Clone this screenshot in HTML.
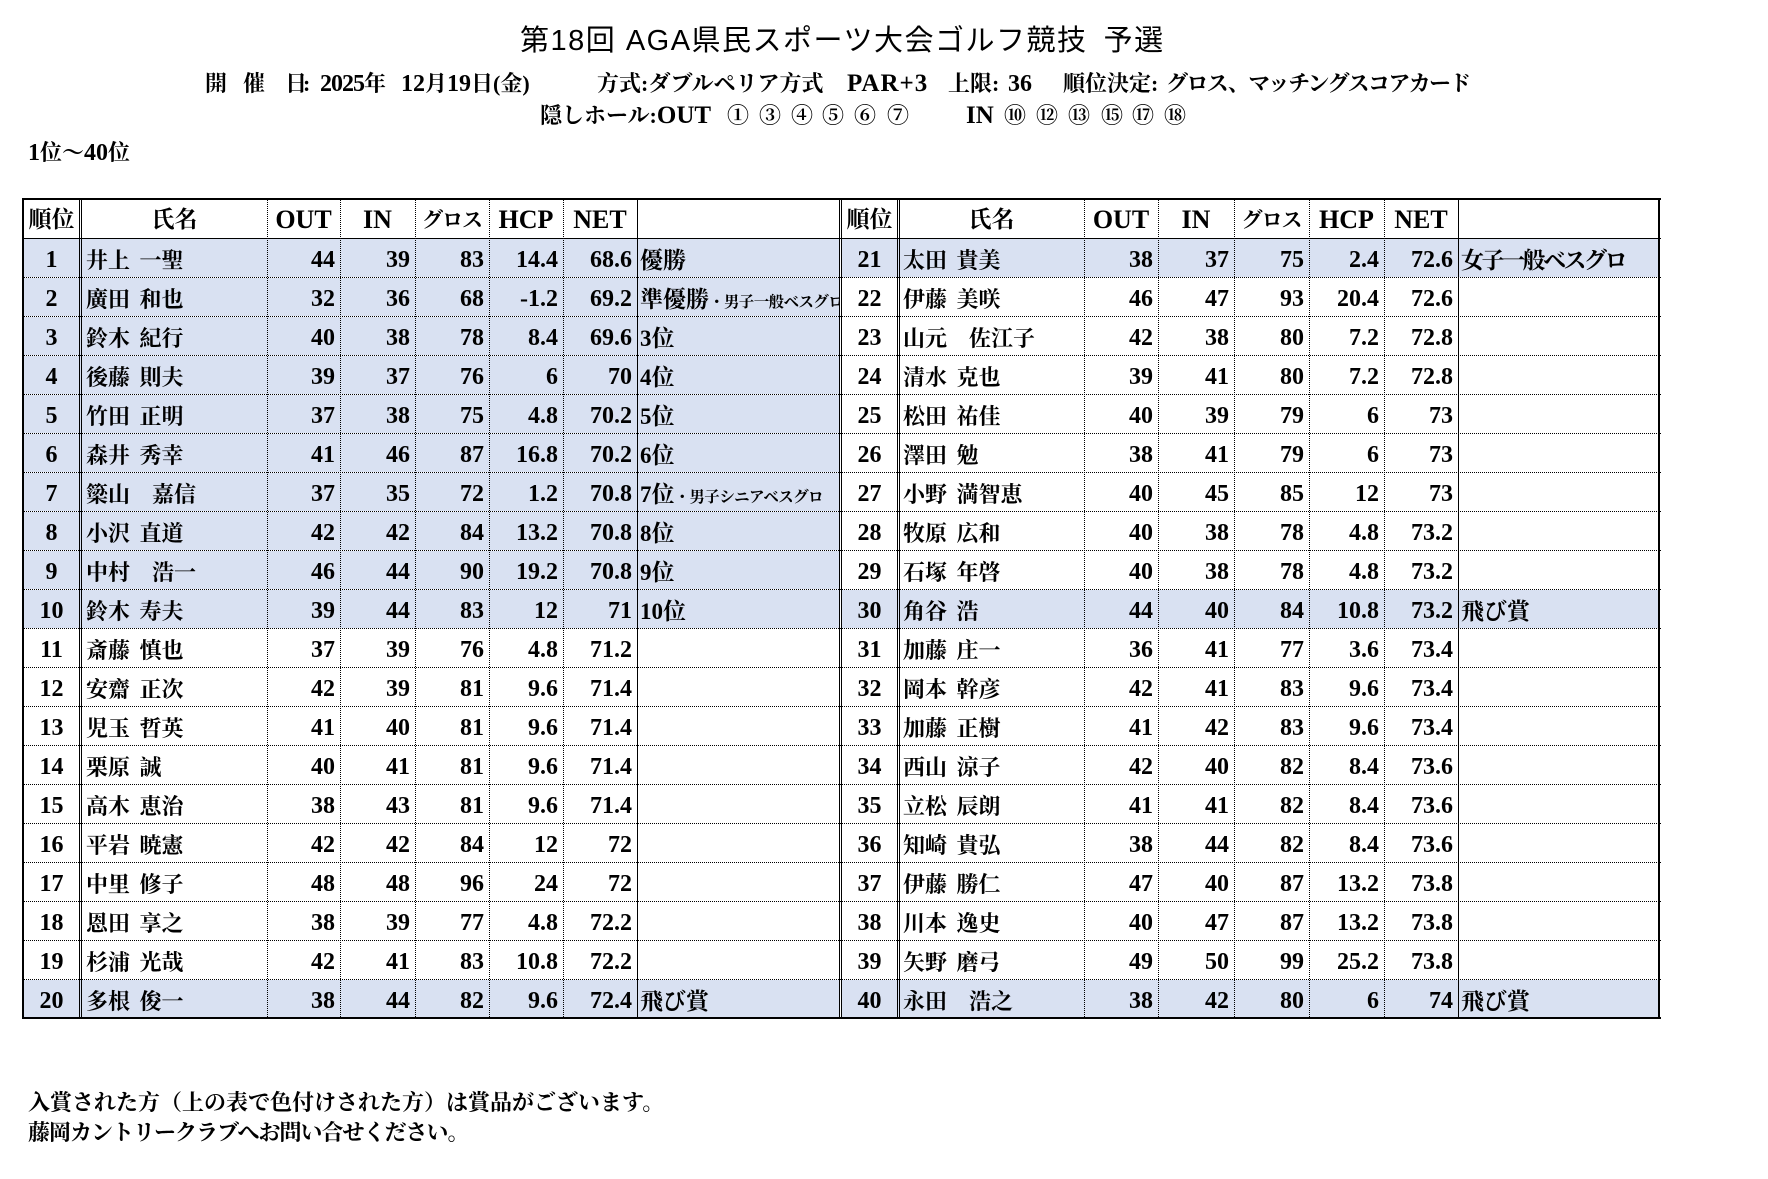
<!DOCTYPE html>
<html><head><meta charset="utf-8">
<style>
html,body{margin:0;padding:0}
body{width:1768px;height:1179px;background:#fff;position:relative;overflow:hidden;color:#000;font-family:"Liberation Serif","Noto Serif CJK SC",serif;font-weight:bold}
.t{position:absolute;white-space:pre;line-height:22px;font-size:22px}
.lat{font-size:24px}
.r{position:absolute;left:0;width:1768px;height:39px}
.r span,.h span{position:absolute;top:0;height:39px;line-height:39px;white-space:nowrap;overflow:hidden;box-sizing:border-box}
.h{position:absolute;left:0;top:201px;width:1768px;height:38px}
.h span{height:38px;line-height:38px;text-align:center}
.hl{font-size:26px}
.hj{font-size:23px}
.k{font-size:24px;text-align:center}
.n{font-size:24px;text-align:right;padding-right:5px}
.m{font-size:22px;padding-left:4px;word-spacing:4px}
.x{font-size:23px;padding-left:3px}
.x small{font-size:15.5px;letter-spacing:-0.6px}
.L0{left:24px;width:55px}.L1{left:82px;width:185px}.L2{left:267px;width:73px}.L3{left:340px;width:75px}.L4{left:415px;width:74px}.L5{left:489px;width:74px}.L6{left:563px;width:74px}.L7{left:637px;width:202px}
.R0{left:842px;width:55px}.R1{left:899px;width:185px}.R2{left:1084px;width:74px}.R3{left:1158px;width:76px}.R4{left:1234px;width:75px}.R5{left:1309px;width:75px}.R6{left:1384px;width:74px}.R7{left:1458px;width:200px}
.bg{position:absolute;height:38px;background:#D9E1F2}
.bl{left:24px;width:815px}
.br{left:842px;width:816px}
.s{position:absolute;background:#000}
.hd{position:absolute;left:22px;width:1639px;height:1px;background:repeating-linear-gradient(90deg,#000 0 1px,transparent 1px 2px)}
.vd{position:absolute;top:198px;height:821px;width:1px;background:repeating-linear-gradient(180deg,#000 0 1px,transparent 1px 2px)}
.vs{position:absolute;top:198px;height:821px;width:1px;background:#000}
</style></head><body>

<!-- title -->
<div class="t" style="left:520px;top:26px;font-family:'Liberation Sans','Noto Sans CJK JP',sans-serif;font-weight:normal;font-size:29px;line-height:30px;letter-spacing:1.5px">第18回 AGA県民スポーツ大会ゴルフ競技<span style="letter-spacing:0">  </span>予選</div>

<!-- line 2 -->
<div class="t" style="left:205px;top:73px">開</div>
<div class="t" style="left:243px;top:73px">催</div>
<div class="t" style="left:285px;top:73px">日</div>
<div class="t" style="left:303px;top:73px">:</div>
<div class="t" style="left:320px;top:73px"><span class="lat" style="letter-spacing:-1px">2025</span>年</div>
<div class="t" style="left:401px;top:73px"><span class="lat">12</span>月<span class="lat">19</span>日(金)</div>
<div class="t" style="left:597px;top:73px">方式:ダブルペリア方式</div>
<div class="t" style="left:847px;top:73px"><span class="lat" style="font-size:25px;letter-spacing:1px">PAR+3</span></div>
<div class="t" style="left:948px;top:73px">上限:</div>
<div class="t" style="left:1008px;top:73px"><span class="lat">36</span></div>
<div class="t" style="left:1063px;top:73px">順位決定:</div>
<div class="t" style="left:1166px;top:73px;letter-spacing:-1.6px">グロス、マッチングスコアカード</div>

<!-- line 3 -->
<div class="t" style="left:540px;top:105px">隠しホール:<span class="lat" style="font-size:25px">OUT</span></div>
<div class="t" style="left:727px;top:105px">①</div>
<div class="t" style="left:759px;top:105px">③</div>
<div class="t" style="left:791px;top:105px">④</div>
<div class="t" style="left:822px;top:105px">⑤</div>
<div class="t" style="left:854px;top:105px">⑥</div>
<div class="t" style="left:887px;top:105px">⑦</div>
<div class="t" style="left:966px;top:105px"><span class="lat" style="font-size:25px">IN</span></div>
<div class="t" style="left:1004px;top:105px">⑩</div>
<div class="t" style="left:1036px;top:105px">⑫</div>
<div class="t" style="left:1068px;top:105px">⑬</div>
<div class="t" style="left:1101px;top:105px">⑮</div>
<div class="t" style="left:1132px;top:105px">⑰</div>
<div class="t" style="left:1164px;top:105px">⑱</div>

<div class="t" style="left:28px;top:142px"><span class="lat">1</span>位～<span class="lat">40</span>位</div>

<!-- backgrounds -->
<div class="bg bl" style="top:239px"></div>
<div class="bg bl" style="top:278px"></div>
<div class="bg bl" style="top:317px"></div>
<div class="bg bl" style="top:356px"></div>
<div class="bg bl" style="top:395px"></div>
<div class="bg bl" style="top:434px"></div>
<div class="bg bl" style="top:473px"></div>
<div class="bg bl" style="top:512px"></div>
<div class="bg bl" style="top:551px"></div>
<div class="bg bl" style="top:590px"></div>
<div class="bg bl" style="top:980px"></div>
<div class="bg br" style="top:239px"></div>
<div class="bg br" style="top:590px"></div>
<div class="bg br" style="top:980px"></div>

<!-- header -->
<div class="h">
<span class="hj L0">順位</span><span class="hj L1">氏名</span><span class="hl L2">OUT</span><span class="hl L3">IN</span><span class="hj L4" style="font-size:21px;letter-spacing:-1px">グロス</span><span class="hl L5">HCP</span><span class="hl L6">NET</span>
<span class="hj R0">順位</span><span class="hj R1">氏名</span><span class="hl R2">OUT</span><span class="hl R3">IN</span><span class="hj R4" style="font-size:21px;letter-spacing:-1px">グロス</span><span class="hl R5">HCP</span><span class="hl R6">NET</span>
</div>

<!-- rows -->
<div class="r" style="top:241px"><span class="k L0">1</span><span class="m L1">井上 一聖</span><span class="n L2">44</span><span class="n L3">39</span><span class="n L4">83</span><span class="n L5">14.4</span><span class="n L6">68.6</span><span class="x L7">優勝</span><span class="k R0">21</span><span class="m R1">太田 貴美</span><span class="n R2">38</span><span class="n R3">37</span><span class="n R4">75</span><span class="n R5">2.4</span><span class="n R6">72.6</span><span class="x R7" style="letter-spacing:-2.5px">女子一般ベスグロ</span></div>
<div class="r" style="top:280px"><span class="k L0">2</span><span class="m L1">廣田 和也</span><span class="n L2">32</span><span class="n L3">36</span><span class="n L4">68</span><span class="n L5">-1.2</span><span class="n L6">69.2</span><span class="x L7">準優勝<small>・男子一般ベスグロ</small></span><span class="k R0">22</span><span class="m R1">伊藤 美咲</span><span class="n R2">46</span><span class="n R3">47</span><span class="n R4">93</span><span class="n R5">20.4</span><span class="n R6">72.6</span></div>
<div class="r" style="top:319px"><span class="k L0">3</span><span class="m L1">鈴木 紀行</span><span class="n L2">40</span><span class="n L3">38</span><span class="n L4">78</span><span class="n L5">8.4</span><span class="n L6">69.6</span><span class="x L7">3位</span><span class="k R0">23</span><span class="m R1">山元　佐江子</span><span class="n R2">42</span><span class="n R3">38</span><span class="n R4">80</span><span class="n R5">7.2</span><span class="n R6">72.8</span></div>
<div class="r" style="top:358px"><span class="k L0">4</span><span class="m L1">後藤 則夫</span><span class="n L2">39</span><span class="n L3">37</span><span class="n L4">76</span><span class="n L5">6</span><span class="n L6">70</span><span class="x L7">4位</span><span class="k R0">24</span><span class="m R1">清水 克也</span><span class="n R2">39</span><span class="n R3">41</span><span class="n R4">80</span><span class="n R5">7.2</span><span class="n R6">72.8</span></div>
<div class="r" style="top:397px"><span class="k L0">5</span><span class="m L1">竹田 正明</span><span class="n L2">37</span><span class="n L3">38</span><span class="n L4">75</span><span class="n L5">4.8</span><span class="n L6">70.2</span><span class="x L7">5位</span><span class="k R0">25</span><span class="m R1">松田 祐佳</span><span class="n R2">40</span><span class="n R3">39</span><span class="n R4">79</span><span class="n R5">6</span><span class="n R6">73</span></div>
<div class="r" style="top:436px"><span class="k L0">6</span><span class="m L1">森井 秀幸</span><span class="n L2">41</span><span class="n L3">46</span><span class="n L4">87</span><span class="n L5">16.8</span><span class="n L6">70.2</span><span class="x L7">6位</span><span class="k R0">26</span><span class="m R1">澤田 勉</span><span class="n R2">38</span><span class="n R3">41</span><span class="n R4">79</span><span class="n R5">6</span><span class="n R6">73</span></div>
<div class="r" style="top:475px"><span class="k L0">7</span><span class="m L1">簗山　嘉信</span><span class="n L2">37</span><span class="n L3">35</span><span class="n L4">72</span><span class="n L5">1.2</span><span class="n L6">70.8</span><span class="x L7">7位<small>・男子シニアベスグロ</small></span><span class="k R0">27</span><span class="m R1">小野 満智恵</span><span class="n R2">40</span><span class="n R3">45</span><span class="n R4">85</span><span class="n R5">12</span><span class="n R6">73</span></div>
<div class="r" style="top:514px"><span class="k L0">8</span><span class="m L1">小沢 直道</span><span class="n L2">42</span><span class="n L3">42</span><span class="n L4">84</span><span class="n L5">13.2</span><span class="n L6">70.8</span><span class="x L7">8位</span><span class="k R0">28</span><span class="m R1">牧原 広和</span><span class="n R2">40</span><span class="n R3">38</span><span class="n R4">78</span><span class="n R5">4.8</span><span class="n R6">73.2</span></div>
<div class="r" style="top:553px"><span class="k L0">9</span><span class="m L1">中村　浩一</span><span class="n L2">46</span><span class="n L3">44</span><span class="n L4">90</span><span class="n L5">19.2</span><span class="n L6">70.8</span><span class="x L7">9位</span><span class="k R0">29</span><span class="m R1">石塚 年啓</span><span class="n R2">40</span><span class="n R3">38</span><span class="n R4">78</span><span class="n R5">4.8</span><span class="n R6">73.2</span></div>
<div class="r" style="top:592px"><span class="k L0">10</span><span class="m L1">鈴木 寿夫</span><span class="n L2">39</span><span class="n L3">44</span><span class="n L4">83</span><span class="n L5">12</span><span class="n L6">71</span><span class="x L7">10位</span><span class="k R0">30</span><span class="m R1">角谷 浩</span><span class="n R2">44</span><span class="n R3">40</span><span class="n R4">84</span><span class="n R5">10.8</span><span class="n R6">73.2</span><span class="x R7">飛び賞</span></div>
<div class="r" style="top:631px"><span class="k L0">11</span><span class="m L1">斎藤 慎也</span><span class="n L2">37</span><span class="n L3">39</span><span class="n L4">76</span><span class="n L5">4.8</span><span class="n L6">71.2</span><span class="k R0">31</span><span class="m R1">加藤 庄一</span><span class="n R2">36</span><span class="n R3">41</span><span class="n R4">77</span><span class="n R5">3.6</span><span class="n R6">73.4</span></div>
<div class="r" style="top:670px"><span class="k L0">12</span><span class="m L1">安齋 正次</span><span class="n L2">42</span><span class="n L3">39</span><span class="n L4">81</span><span class="n L5">9.6</span><span class="n L6">71.4</span><span class="k R0">32</span><span class="m R1">岡本 幹彦</span><span class="n R2">42</span><span class="n R3">41</span><span class="n R4">83</span><span class="n R5">9.6</span><span class="n R6">73.4</span></div>
<div class="r" style="top:709px"><span class="k L0">13</span><span class="m L1">児玉 哲英</span><span class="n L2">41</span><span class="n L3">40</span><span class="n L4">81</span><span class="n L5">9.6</span><span class="n L6">71.4</span><span class="k R0">33</span><span class="m R1">加藤 正樹</span><span class="n R2">41</span><span class="n R3">42</span><span class="n R4">83</span><span class="n R5">9.6</span><span class="n R6">73.4</span></div>
<div class="r" style="top:748px"><span class="k L0">14</span><span class="m L1">栗原 誠</span><span class="n L2">40</span><span class="n L3">41</span><span class="n L4">81</span><span class="n L5">9.6</span><span class="n L6">71.4</span><span class="k R0">34</span><span class="m R1">西山 涼子</span><span class="n R2">42</span><span class="n R3">40</span><span class="n R4">82</span><span class="n R5">8.4</span><span class="n R6">73.6</span></div>
<div class="r" style="top:787px"><span class="k L0">15</span><span class="m L1">高木 恵治</span><span class="n L2">38</span><span class="n L3">43</span><span class="n L4">81</span><span class="n L5">9.6</span><span class="n L6">71.4</span><span class="k R0">35</span><span class="m R1">立松 辰朗</span><span class="n R2">41</span><span class="n R3">41</span><span class="n R4">82</span><span class="n R5">8.4</span><span class="n R6">73.6</span></div>
<div class="r" style="top:826px"><span class="k L0">16</span><span class="m L1">平岩 暁憲</span><span class="n L2">42</span><span class="n L3">42</span><span class="n L4">84</span><span class="n L5">12</span><span class="n L6">72</span><span class="k R0">36</span><span class="m R1">知崎 貴弘</span><span class="n R2">38</span><span class="n R3">44</span><span class="n R4">82</span><span class="n R5">8.4</span><span class="n R6">73.6</span></div>
<div class="r" style="top:865px"><span class="k L0">17</span><span class="m L1">中里 修子</span><span class="n L2">48</span><span class="n L3">48</span><span class="n L4">96</span><span class="n L5">24</span><span class="n L6">72</span><span class="k R0">37</span><span class="m R1">伊藤 勝仁</span><span class="n R2">47</span><span class="n R3">40</span><span class="n R4">87</span><span class="n R5">13.2</span><span class="n R6">73.8</span></div>
<div class="r" style="top:904px"><span class="k L0">18</span><span class="m L1">恩田 享之</span><span class="n L2">38</span><span class="n L3">39</span><span class="n L4">77</span><span class="n L5">4.8</span><span class="n L6">72.2</span><span class="k R0">38</span><span class="m R1">川本 逸史</span><span class="n R2">40</span><span class="n R3">47</span><span class="n R4">87</span><span class="n R5">13.2</span><span class="n R6">73.8</span></div>
<div class="r" style="top:943px"><span class="k L0">19</span><span class="m L1">杉浦 光哉</span><span class="n L2">42</span><span class="n L3">41</span><span class="n L4">83</span><span class="n L5">10.8</span><span class="n L6">72.2</span><span class="k R0">39</span><span class="m R1">矢野 磨弓</span><span class="n R2">49</span><span class="n R3">50</span><span class="n R4">99</span><span class="n R5">25.2</span><span class="n R6">73.8</span></div>
<div class="r" style="top:982px"><span class="k L0">20</span><span class="m L1">多根 俊一</span><span class="n L2">38</span><span class="n L3">44</span><span class="n L4">82</span><span class="n L5">9.6</span><span class="n L6">72.4</span><span class="x L7">飛び賞</span><span class="k R0">40</span><span class="m R1">永田　浩之</span><span class="n R2">38</span><span class="n R3">42</span><span class="n R4">80</span><span class="n R5">6</span><span class="n R6">74</span><span class="x R7">飛び賞</span></div>

<!-- horizontal lines -->
<div class="s" style="left:22px;top:198px;width:1639px;height:2px"></div>
<div class="s" style="left:22px;top:238px;width:1639px;height:1px"></div>
<div class="hd" style="top:277px"></div>
<div class="hd" style="top:316px"></div>
<div class="hd" style="top:355px"></div>
<div class="hd" style="top:394px"></div>
<div class="hd" style="top:433px"></div>
<div class="hd" style="top:472px"></div>
<div class="hd" style="top:511px"></div>
<div class="hd" style="top:550px"></div>
<div class="hd" style="top:589px"></div>
<div class="hd" style="top:628px"></div>
<div class="hd" style="top:667px"></div>
<div class="hd" style="top:706px"></div>
<div class="hd" style="top:745px"></div>
<div class="hd" style="top:784px"></div>
<div class="hd" style="top:823px"></div>
<div class="hd" style="top:862px"></div>
<div class="hd" style="top:901px"></div>
<div class="hd" style="top:940px"></div>
<div class="hd" style="top:979px"></div>
<div class="s" style="left:22px;top:1017px;width:1639px;height:2px"></div>

<!-- vertical lines -->
<div class="vs" style="left:22px;width:2px"></div>
<div class="vs" style="left:79px"></div>
<div class="vs" style="left:81px"></div>
<div class="vd" style="left:267px"></div>
<div class="vd" style="left:340px"></div>
<div class="vd" style="left:415px"></div>
<div class="vd" style="left:489px"></div>
<div class="vd" style="left:563px"></div>
<div class="vs" style="left:637px"></div>
<div class="vs" style="left:839px"></div>
<div class="vs" style="left:841px"></div>
<div class="vs" style="left:897px"></div>
<div class="vs" style="left:899px"></div>
<div class="vd" style="left:1084px"></div>
<div class="vd" style="left:1158px"></div>
<div class="vd" style="left:1234px"></div>
<div class="vd" style="left:1309px"></div>
<div class="vd" style="left:1384px"></div>
<div class="vs" style="left:1458px"></div>
<div class="vs" style="left:1658px;width:2px"></div>

<!-- footer -->
<div class="t" style="left:28px;top:1092px">入賞された方（上の表で色付けされた方）は賞品がございます。</div>
<div class="t" style="left:28px;top:1122px;letter-spacing:-1px">藤岡カントリークラブへお問い合せください。</div>

</body></html>
